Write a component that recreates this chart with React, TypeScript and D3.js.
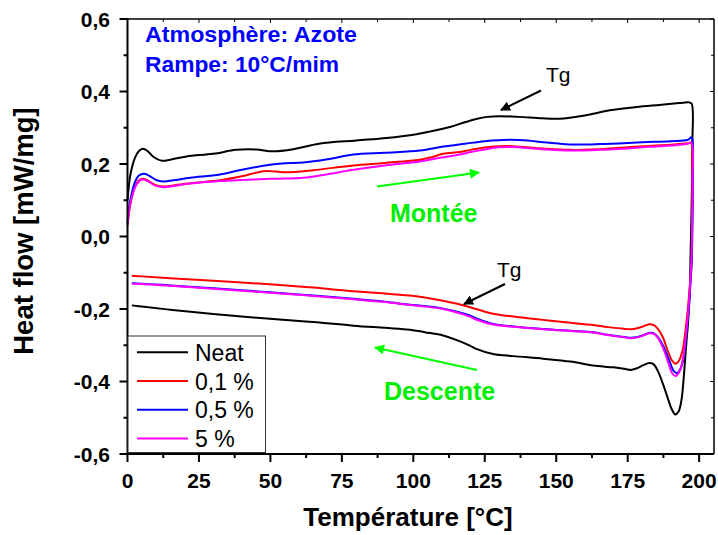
import React from "react";
import * as d3 from "d3";

type Pt = [number, number];

const seriesNames = ["Neat", "0,1 %", "0,5 %", "5 %"];
const seriesColors = ["#000000", "#ff0000", "#0000ff", "#ff00ff"];

const neatHeat: Pt[] = [[0,0.10],[1,0.17],[2.5,0.215],[4,0.236],[5.3,0.242],[7,0.236],[9,0.22],[12,0.209],[15,0.212],[20.7,0.221],[30,0.228],[38,0.239],[45,0.24],[51,0.235],[58,0.241],[67,0.256],[80,0.265],[90.6,0.272],[100,0.281],[106,0.29],[112.8,0.302],[118,0.315],[122,0.324],[126,0.330],[130,0.332],[137,0.330],[145,0.326],[151,0.325],[160,0.334],[168.7,0.348],[178,0.357],[186.2,0.363],[193,0.368],[196.5,0.370],[197.4,0.366]];
const neatCool: Pt[] = [[197.6,0.25],[197.4,0.1],[197.0,-0.05],[196.7,-0.158],[196.1,-0.24],[195.5,-0.296],[194.6,-0.39],[193.8,-0.452],[192.8,-0.483],[191.7,-0.491],[190.5,-0.478],[189,-0.445],[187.3,-0.406],[185.5,-0.37],[184,-0.352],[182.5,-0.349],[180.5,-0.355],[178,-0.364],[176,-0.368],[174.5,-0.366],[170,-0.361],[162.9,-0.356],[155,-0.345],[145.4,-0.337],[135,-0.330],[127.9,-0.324],[122,-0.310],[119.8,-0.301],[115,-0.285],[110.4,-0.273],[104,-0.264],[98.8,-0.257],[90,-0.252],[79,-0.246],[65,-0.236],[49.8,-0.227],[30,-0.214],[14.9,-0.202],[5,-0.193],[1.5,-0.19]];

const redHeat: Pt[] = [[0,0.03],[1,0.09],[2.5,0.135],[4,0.155],[5.3,0.159],[7,0.155],[9.5,0.143],[12.5,0.138],[16,0.141],[22,0.147],[32.3,0.155],[40,0.166],[47.5,0.18],[52,0.179],[55.7,0.177],[65,0.183],[79,0.196],[90,0.203],[102.3,0.212],[106,0.218],[110.4,0.228],[116.3,0.233],[120,0.239],[124.4,0.245],[130,0.249],[135,0.249],[145,0.243],[154.7,0.239],[165,0.241],[180.3,0.249],[190,0.253],[196,0.257],[197.2,0.258]];
const redCool: Pt[] = [[197.6,0.2],[197.5,0.05],[197.4,-0.066],[196.7,-0.14],[196,-0.204],[195.2,-0.26],[194.2,-0.314],[193,-0.342],[191.7,-0.351],[190.5,-0.342],[189,-0.315],[187.3,-0.278],[185.5,-0.254],[184,-0.244],[182.5,-0.242],[180.5,-0.248],[178,-0.254],[176,-0.256],[174.5,-0.255],[168,-0.25],[162.9,-0.244],[155,-0.238],[145.4,-0.230],[135,-0.221],[127.9,-0.213],[122,-0.200],[119.8,-0.195],[115,-0.185],[110.4,-0.177],[104,-0.168],[98.8,-0.163],[90,-0.157],[79,-0.151],[65,-0.141],[49.8,-0.132],[30,-0.122],[14.9,-0.115],[5,-0.110],[1.5,-0.108]];

const blueHeat: Pt[] = [[0,0.04],[1,0.1],[2.5,0.148],[4,0.168],[5.8,0.173],[7.5,0.168],[10,0.156],[12.5,0.152],[16,0.155],[22,0.162],[32.3,0.171],[40,0.184],[49.8,0.198],[55,0.202],[61.5,0.204],[70,0.213],[79,0.226],[90,0.231],[102.3,0.237],[110.4,0.248],[118,0.256],[125,0.263],[133.7,0.267],[140,0.265],[145.4,0.260],[150,0.257],[154.7,0.254],[165,0.255],[180.3,0.260],[190,0.263],[196.1,0.267],[197.2,0.274],[197.6,0.27]];
const blueCool: Pt[] = [[197.8,0.15],[197.6,0.0],[197.4,-0.066],[196.9,-0.14],[196.3,-0.204],[195.5,-0.27],[194.6,-0.333],[193.4,-0.366],[192.2,-0.377],[191,-0.37],[189.6,-0.343],[187.5,-0.303],[185.5,-0.277],[184,-0.267],[182.5,-0.266],[180.5,-0.272],[178,-0.278],[176,-0.279],[174.5,-0.278],[168,-0.271],[162.9,-0.264],[155,-0.260],[145.4,-0.255],[135,-0.248],[127.9,-0.241],[122,-0.226],[119.8,-0.218],[115,-0.207],[110.4,-0.199],[104,-0.192],[98.8,-0.188],[90,-0.180],[79,-0.172],[65,-0.163],[49.8,-0.154],[30,-0.143],[14.9,-0.135],[5,-0.130],[1.5,-0.129]];

const magHeat: Pt[] = [[0,0.035],[1,0.09],[2.5,0.133],[4,0.152],[5.3,0.157],[7,0.153],[9.5,0.141],[12.5,0.136],[16,0.139],[22,0.146],[32.3,0.153],[40,0.156],[49.8,0.159],[55,0.160],[61.5,0.162],[70,0.172],[79,0.184],[90,0.196],[102.3,0.207],[110,0.218],[116.3,0.226],[120,0.233],[124.4,0.239],[130,0.246],[135,0.247],[145,0.241],[154.7,0.237],[165,0.239],[180.3,0.246],[190,0.251],[196,0.256],[197.3,0.26]];
const magCool: Pt[] = [[197.7,0.15],[197.5,0.0],[197.3,-0.066],[196.8,-0.14],[196.2,-0.204],[195.4,-0.27],[194.4,-0.335],[193.2,-0.371],[191.8,-0.385],[190.6,-0.378],[189.3,-0.35],[187.3,-0.306],[185.5,-0.279],[184,-0.268],[182.5,-0.267],[180.5,-0.273],[178,-0.279],[176,-0.281],[174.5,-0.279],[168,-0.272],[162.9,-0.265],[155,-0.261],[145.4,-0.256],[135,-0.249],[127.9,-0.243],[122,-0.229],[119.8,-0.221],[115,-0.209],[110.4,-0.200],[104,-0.193],[98.8,-0.189],[90,-0.181],[79,-0.173],[65,-0.164],[49.8,-0.155],[30,-0.144],[14.9,-0.136],[5,-0.131],[1.5,-0.130]];

const heatSeries = [neatHeat, redHeat, blueHeat, magHeat];
const coolSeries = [neatCool, redCool, blueCool, magCool];

const xMajor = [0, 25, 50, 75, 100, 125, 150, 175, 200];
const xMinor = [12.5, 37.5, 62.5, 87.5, 112.5, 137.5, 162.5, 187.5];
const yMajor = [-0.6, -0.4, -0.2, 0.0, 0.2, 0.4, 0.6];
const yMajorLabels = ["-0,6", "-0,4", "-0,2", "0,0", "0,2", "0,4", "0,6"];
const yMinor = [-0.5, -0.3, -0.1, 0.1, 0.3, 0.5];

const L = 127.5, R = 714, T = 19, B = 454;
const FONT = "Arial, 'Liberation Sans', sans-serif";

export default function App() {
  const x = d3.scaleLinear().domain([0, 205.2]).range([L, R]);
  const y = d3.scaleLinear().domain([-0.6, 0.6]).range([B, T]);
  const line = d3
    .line<Pt>()
    .x((d) => x(d[0]))
    .y((d) => y(d[1]))
    .curve(d3.curveCatmullRom.alpha(0.5));

  return (
    <svg width={718} height={535} style={{ position: "absolute", left: 0, top: 0, background: "#fff" }}>
      <defs>
        <marker id="ahBlack" viewBox="0 0 10 10" refX="9" refY="5" markerWidth="5" markerHeight="5" orient="auto" markerUnits="strokeWidth">
          <path d="M0,0 L10,5 L0,10 z" fill="#000" />
        </marker>
        <marker id="ahGreen" viewBox="0 0 10 10" refX="9" refY="5" markerWidth="6" markerHeight="5" orient="auto" markerUnits="strokeWidth">
          <path d="M0,0 L10,5 L0,10 z" fill="#00ff00" />
        </marker>
      </defs>
      <rect x={0} y={0} width={718} height={535} fill="#fff" />

      {/* curves */}
      {heatSeries.map((h, i) => (
        <path key={i} d={line([...h, ...coolSeries[i]]) || ""} fill="none" stroke={seriesColors[i]} strokeWidth={2} strokeLinejoin="round" />
      ))}

      {/* frame */}
      <line x1={L} x2={R} y1={T} y2={T} stroke="#000" strokeWidth={1.5} />
      <line x1={R} x2={R} y1={T} y2={B} stroke="#000" strokeWidth={1.5} />
      <line x1={L} x2={L} y1={T - 1} y2={B + 1} stroke="#000" strokeWidth={2} />
      <line x1={L - 1} x2={R} y1={B} y2={B} stroke="#000" strokeWidth={2} />

      {/* x ticks */}
      {xMajor.map((v) => (
        <g key={"xm" + v}>
          <line x1={x(v)} x2={x(v)} y1={B} y2={B + 8} stroke="#000" strokeWidth={2} />
          <line x1={x(v)} x2={x(v)} y1={T} y2={T + 4} stroke="#000" strokeWidth={1} />
          <text x={x(v)} y={488} textAnchor="middle" fontFamily={FONT} fontWeight="bold" fontSize={21}>{v}</text>
        </g>
      ))}
      {xMinor.map((v) => (
        <g key={"xn" + v}>
          <line x1={x(v)} x2={x(v)} y1={B} y2={B + 4} stroke="#000" strokeWidth={2} />
          <line x1={x(v)} x2={x(v)} y1={T} y2={T + 3} stroke="#000" strokeWidth={1} />
        </g>
      ))}

      {/* y ticks */}
      {yMajor.map((v, i) => (
        <g key={"ym" + v}>
          <line x1={L - 8} x2={L} y1={y(v)} y2={y(v)} stroke="#000" strokeWidth={2} />
          <line x1={R - 4} x2={R} y1={y(v)} y2={y(v)} stroke="#000" strokeWidth={1} />
          <text x={110} y={y(v)} dy="0.36em" textAnchor="end" fontFamily={FONT} fontWeight="bold" fontSize={21}>{yMajorLabels[i]}</text>
        </g>
      ))}
      {yMinor.map((v) => (
        <g key={"yn" + v}>
          <line x1={L - 4} x2={L} y1={y(v)} y2={y(v)} stroke="#000" strokeWidth={2} />
          <line x1={R - 3} x2={R} y1={y(v)} y2={y(v)} stroke="#000" strokeWidth={1} />
        </g>
      ))}

      {/* axis titles */}
      <text x={408} y={526} textAnchor="middle" fontFamily={FONT} fontWeight="bold" fontSize={26}>Température [°C]</text>
      <text transform="translate(33,231) rotate(-90)" textAnchor="middle" fontFamily={FONT} fontWeight="bold" fontSize={27.5}>Heat flow [mW/mg]</text>

      {/* blue annotations */}
      <text x={145} y={42} fontFamily={FONT} fontWeight="bold" fontSize={22} fill="#0000ff" textLength={212} lengthAdjust="spacingAndGlyphs">Atmosphère: Azote</text>
      <text x={145} y={72} fontFamily={FONT} fontWeight="bold" fontSize={22} fill="#0000ff" textLength={194} lengthAdjust="spacingAndGlyphs">Rampe: 10°C/mim</text>

      {/* Tg annotations */}
      <text x={546} y={82} fontFamily={FONT} fontSize={21}>Tg</text>
      <line x1={541} y1={90.5} x2={501} y2={110} stroke="#000" strokeWidth={2} markerEnd="url(#ahBlack)" />
      <text x={497} y={277} fontFamily={FONT} fontSize={21}>Tg</text>
      <line x1={505} y1={284} x2={464} y2={304} stroke="#000" strokeWidth={2} markerEnd="url(#ahBlack)" />

      {/* green annotations */}
      <line x1={377} y1={186.5} x2={479} y2={172.5} stroke="#00ff00" strokeWidth={2} markerEnd="url(#ahGreen)" />
      <text x={390} y={222} fontFamily={FONT} fontWeight="bold" fontSize={25} fill="#00ee00">Montée</text>
      <line x1={477} y1={370} x2={375} y2={347.5} stroke="#00ff00" strokeWidth={2} markerEnd="url(#ahGreen)" />
      <text x={384} y={400} fontFamily={FONT} fontWeight="bold" fontSize={25} fill="#00ee00">Descente</text>

      {/* legend */}
      <rect x={128} y={336} width={137.5} height={116.5} fill="#fff" stroke="#333" strokeWidth={1} />
      {seriesNames.map((n, i) => (
        <g key={n}>
          <line x1={137} x2={188} y1={352.3 + i * 28.7} y2={352.3 + i * 28.7} stroke={seriesColors[i]} strokeWidth={2} />
          <text x={195} y={352.3 + i * 28.7 + 8.5} fontFamily={FONT} fontSize={23}>{n}</text>
        </g>
      ))}
    </svg>
  );
}
